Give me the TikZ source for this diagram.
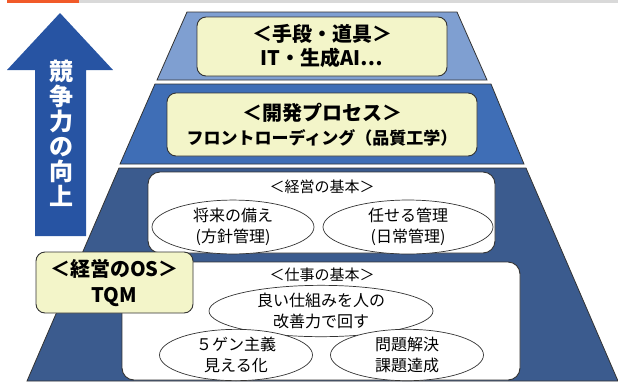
\documentclass[tikz,border=0pt]{standalone}
\usepackage{fontspec}
\newfontfamily\jp{Noto Sans CJK JP}
\usetikzlibrary{shapes.geometric}
\definecolor{topor}{HTML}{F15A29}
\definecolor{topgr}{HTML}{D9D9D9}
\definecolor{layA}{HTML}{7F9FD1}
\definecolor{layB}{HTML}{3F6EB6}
\definecolor{layC}{HTML}{3B5B8E}
\definecolor{arrowblue}{HTML}{2754A3}
\definecolor{cream}{HTML}{F3F5C9}
\definecolor{edge}{HTML}{333333}
\tikzset{
  layer/.style={draw=edge, line width=0.8pt},
  creambox/.style={draw=edge, fill=cream, line width=0.9pt, rounded corners=9pt, inner sep=0pt, align=center,
     font=\jp\bfseries\fontsize{20}{24}\selectfont},
  whitebox/.style={draw=edge, fill=white, line width=0.9pt, rounded corners=12pt, inner sep=0pt},
  oval/.style={ellipse, draw=edge, fill=white, line width=0.7pt, inner sep=0pt, align=center,
     font=\jp\fontsize{16}{21.5}\selectfont},
  headlabel/.style={inner sep=0pt, font=\jp\fontsize{15}{18}\selectfont},
}
\begin{document}
\begin{tikzpicture}[x=1pt,y=-1pt]
\useasboundingbox (0,0) rectangle (618,381);
% top bar
\fill[topor] (7,0) rectangle (79,3);
\fill[topgr] (79,0) rectangle (618,3);
% pyramid layers
\draw[layer, fill=layA] (187,12) -- (457,12) -- (487,80) -- (157,80) -- cycle;
\draw[layer, fill=layB] (155,84) -- (491,84) -- (524,164) -- (120,164) -- cycle;
\draw[layer, fill=layC] (119,168) -- (526,168) -- (618,381) -- (27,381) -- cycle;
% arrow
\fill[arrowblue] (60,13) -- (113,70) -- (86,70) -- (86,236) -- (35,236) -- (35,70) -- (7,70) -- cycle;
\node[inner sep=0pt, text=white, align=center, font=\jp\bfseries\fontsize{24}{25}\selectfont] (arrowtext) at (61,133)
  {競\\争\\力\\の\\向\\上};
% cream boxes
\node[creambox, minimum width=250pt, minimum height=59pt] (tools) at (322,46.5)
  {＜手段・道具＞\\IT・生成AI⋯};
\node[creambox, minimum width=310pt, minimum height=63pt] (process) at (322,124.5)
  {＜開発プロセス＞\\{\fontsize{17}{24}\selectfont フロントローディング（品質工学）}};
% white boxes
\node[whitebox, minimum width=347pt, minimum height=81pt] (mgmt) at (321.5,212.5) {};
\node[whitebox, minimum width=398pt, minimum height=118pt] (work) at (321,321) {};
\node[headlabel] (mgmtlabel) at (322,187) {＜経営の基本＞};
\node[headlabel] (worklabel) at (322,275) {＜仕事の基本＞};
% ellipses
\node[oval, minimum width=162pt, minimum height=50pt] (e1) at (233,227) {将来の備え\\(方針管理)};
\node[oval, minimum width=170pt, minimum height=50pt] (e2) at (408,227) {任せる管理\\(日常管理)};
\node[oval, minimum width=224pt, minimum height=42pt] (e3) at (321,311) {良い仕組みを人の\\改善力で回す};
\node[oval, minimum width=153pt, minimum height=44pt] (e4) at (236,355) {５ゲン主義\\見える化};
\node[oval, minimum width=153pt, minimum height=44pt] (e5) at (407,355) {問題解決\\課題達成};
% TQM box
\node[creambox, minimum width=157pt, minimum height=61pt, font=\jp\bfseries\fontsize{20}{26}\selectfont] (tqm) at (114.5,282.5)
  {＜経営のOS＞\\TQM};
\end{tikzpicture}
\end{document}
